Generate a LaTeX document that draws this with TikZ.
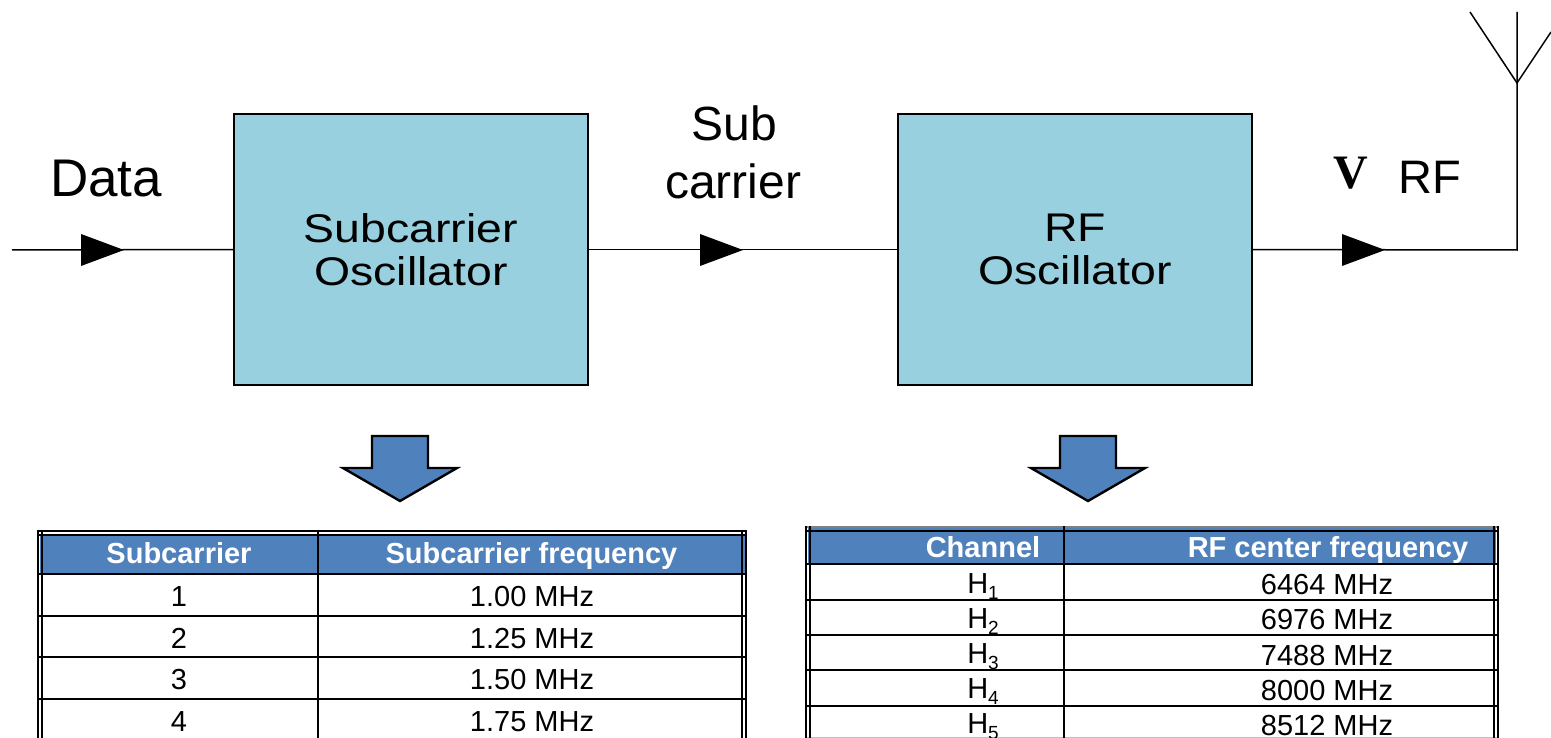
\documentclass[tikz,border=0pt]{standalone}
\usepackage{fontspec}
\setmainfont{Liberation Sans}
\newfontfamily\wide[FakeStretch=1.16]{Liberation Sans}
\newfontfamily\serifv{Liberation Serif}
\definecolor{boxblue}{HTML}{99D0DF}
\definecolor{hdrblue}{HTML}{4F81BD}
\newcommand{\fs}[1]{\fontsize{#1}{#1}\selectfont}
\tikzset{
  blockbox/.style={draw=black,fill=boxblue,line width=1.3pt,minimum width=354pt,minimum height=271pt,inner sep=0pt,align=center,font=\wide\fs{40}},
  wire/.style={line width=1.5pt},
  tip/.style={fill=black,draw=none},
  biglabel/.style={inner sep=0pt,anchor=base,font=\fs{48}},
  downarrow/.style={draw=black,fill=hdrblue,line width=2.4pt,line join=miter},
  grid/.style={line width=2pt},
  hdr/.style={inner sep=0pt,anchor=base,text=white,font=\bfseries\fs{29}},
  cell/.style={inner sep=0pt,anchor=base,font=\fs{29}}
}
\begin{document}
\begin{tikzpicture}[x=1pt,y=-1pt]
\useasboundingbox (0,0) rectangle (1551,738);
% blocks
\node[blockbox] (sco) at (411,249.5) {Subcarrier\\[3pt]Oscillator};
\node[blockbox] (rfo) at (1075,249.5) {RF\\[3pt]Oscillator};
\coordinate (in) at (12,250);
\coordinate (ant) at (1517,83);
\coordinate (corner) at (1517,250);
\coordinate (antT) at (1517,12);
\coordinate (antL) at (1470,12);
\coordinate (antR) at (1551,32);
% wires
\draw[wire] (in) -- (sco.west);
\draw[wire] (sco.east) -- (rfo.west);
\draw[wire] (rfo.east) -- (corner) -- (ant) -- (antT);
\draw[wire] (antL) -- (ant) -- (antR);
\foreach \x in {81,700,1342}
  \fill[tip] (\x,234) -- (\x+43,250) -- (\x,266) -- cycle;
% labels
\node[biglabel,font=\fs{53}] (data) at (106,197) {Data};
\node[biglabel] (sub) at (734,141) {Sub};
\node[biglabel] (car) at (733,199) {carrier};
\node[biglabel,font=\fs{47}] (rf) at (1430,194) {RF};
\begin{scope}
\clip (1330,150) rectangle (1368,195);
\node[inner sep=0pt,anchor=base west,font=\serifv\bfseries\fs{48}] (v) at (1333,189) {V};
\end{scope}
% arrows
\draw[downarrow] (372,436) -- (428,436) -- (428,468) -- (457,468) -- (400,501) -- (343,468) -- (372,468) -- cycle;
\draw[downarrow] (1060,436) -- (1116,436) -- (1116,468) -- (1145,468) -- (1088,501) -- (1031,468) -- (1060,468) -- cycle;
% left table
\fill[hdrblue] (40,535) rectangle (744.5,574);
\foreach \y in {531,535,574,616,657,699} \draw[grid] (38,\y) -- (747,\y);
\foreach \x in {38,42,318,742,746} \draw[grid] (\x,530) -- (\x,738);
\node[hdr] (t1a) at (179,563) {Subcarrier};
\node[hdr] (t1b) at (531.5,563) {Subcarrier frequency};
\node[cell] at (179,606) {1};
\node[cell] at (532,606) {1.00 MHz};
\node[cell] at (179,648) {2};
\node[cell] at (532,648) {1.25 MHz};
\node[cell] at (179,689) {3};
\node[cell] at (532,689) {1.50 MHz};
\node[cell] at (179,731) {4};
\node[cell] at (532,731) {1.75 MHz};
% right table
\fill[hdrblue] (808,528) rectangle (1496,564);
\draw[line width=1.5pt,gray] (806,527) -- (1498,527);
\foreach \y in {531,564,600,635,670,706} \draw[grid] (806,\y) -- (1498,\y);
\draw[line width=1.5pt,lightgray] (806,738) -- (1498,738);
\foreach \x in {806,810,1064,1494,1498} \draw[grid] (\x,526) -- (\x,738);
\node[hdr] (t2a) at (983,557) {Channel};
\node[hdr] (t2b) at (1328,557) {RF center frequency};
\foreach \n/\f/\y/\h in {1/6464/594/593,2/6976/629.5/628,3/7488/665/663,4/8000/700/698,5/8512/735/733}{
  \node[cell] at (983,\h) {H\raisebox{-6pt}{\fs{19}\n}};
  \node[cell] at (1327,\y) {\f{} MHz};
}
\end{tikzpicture}
\end{document}
